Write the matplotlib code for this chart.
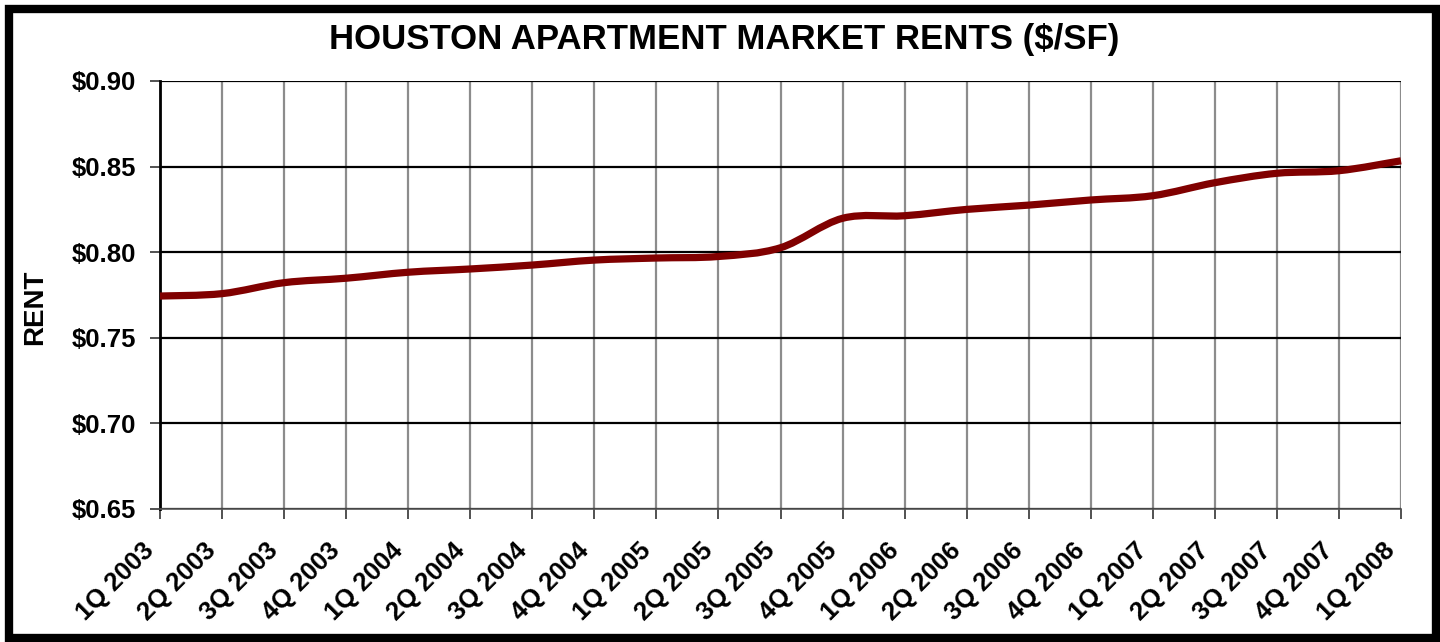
import matplotlib
matplotlib.use("Agg")
import matplotlib.pyplot as plt
from matplotlib.path import Path
from matplotlib.patches import PathPatch, Rectangle
from matplotlib.transforms import ScaledTranslation
import numpy as np

quarters = ["1Q 2003", "2Q 2003", "3Q 2003", "4Q 2003", "1Q 2004", "2Q 2004",
            "3Q 2004", "4Q 2004", "1Q 2005", "2Q 2005", "3Q 2005", "4Q 2005",
            "1Q 2006", "2Q 2006", "3Q 2006", "4Q 2006", "1Q 2007", "2Q 2007",
            "3Q 2007", "4Q 2007", "1Q 2008"]
rents = [0.7744, 0.7758, 0.7822, 0.7848, 0.7883, 0.7902, 0.7925, 0.7954,
         0.7966, 0.7975, 0.8026, 0.8198, 0.8213, 0.8250, 0.8275, 0.8305,
         0.8330, 0.8406, 0.8461, 0.8476, 0.8534]
yticks = [0.65, 0.70, 0.75, 0.80, 0.85, 0.90]

plt.rcParams['font.family'] = ['Liberation Sans', 'DejaVu Sans']

fig = plt.figure(figsize=(14.4, 6.42), dpi=100)
ax = fig.add_axes([160/1440, 1 - 509/642, (1401-160)/1440, (509-81)/642])

x = np.arange(len(quarters))
y = np.array(rents)

# Smoothed line (Catmull-Rom style Bezier through the data points)
verts = [(x[0], y[0])]
codes = [Path.MOVETO]
n = len(x)
for i in range(n - 1):
    p0 = np.array([x[max(i-1, 0)], y[max(i-1, 0)]])
    p1 = np.array([x[i], y[i]])
    p2 = np.array([x[i+1], y[i+1]])
    p3 = np.array([x[min(i+2, n-1)], y[min(i+2, n-1)]])
    c1 = p1 + (p2 - p0) / 6.0
    c2 = p2 - (p3 - p1) / 6.0
    verts += [tuple(c1), tuple(c2), tuple(p2)]
    codes += [Path.CURVE4, Path.CURVE4, Path.CURVE4]
path = Path(verts, codes)
ax.add_patch(PathPatch(path, facecolor='none', edgecolor='#800000', lw=5.2,
                       capstyle='butt', joinstyle='round', zorder=5, clip_on=False))

ax.set_xlim(0, n - 1)
ax.set_ylim(0.65, 0.90)
ax.set_xticks(x)
ax.set_xticklabels(quarters, rotation=45, ha='right', rotation_mode='anchor',
                   fontsize=18.5, fontweight='bold')
ax.set_yticks(yticks)
ax.set_yticklabels([f"${v:.2f}" for v in yticks], fontsize=18.5, fontweight='bold')

for v in x:
    ax.axvline(v, color='#8c8c8c', lw=1.6, zorder=1)
for v in yticks:
    ax.axhline(v, color='black', lw=1.6, zorder=2)

ax.tick_params(axis='both', direction='out', length=7, width=1.2, color='#333333')
ax.tick_params(axis='y', pad=10)
ax.tick_params(axis='x', pad=14)
offset = ScaledTranslation(-18/100, 0, fig.dpi_scale_trans)
for lab in ax.get_xticklabels():
    lab.set_transform(lab.get_transform() + offset)
for s in ['top', 'right']:
    ax.spines[s].set_visible(False)
ax.spines['left'].set_linewidth(2.0)
ax.spines['left'].set_color('black')
ax.spines['bottom'].set_linewidth(1.2)
ax.spines['bottom'].set_color('#555555')

fig.text(35/1440, 1 - 307/642, "RENT", rotation=90, ha='center', va='center',
         fontsize=20, fontweight='bold')
fig.text(724/1440, 1 - 40/642, "HOUSTON APARTMENT MARKET RENTS ($/SF)",
         ha='center', va='center', fontsize=25, fontweight='bold')

fig.patches.append(Rectangle((9/1440, 4/642), (1436-9)/1440, (633-4)/642,
                             transform=fig.transFigure, fill=False,
                             edgecolor='black', lw=6, zorder=10))
fig.savefig("out.png", dpi=100)
